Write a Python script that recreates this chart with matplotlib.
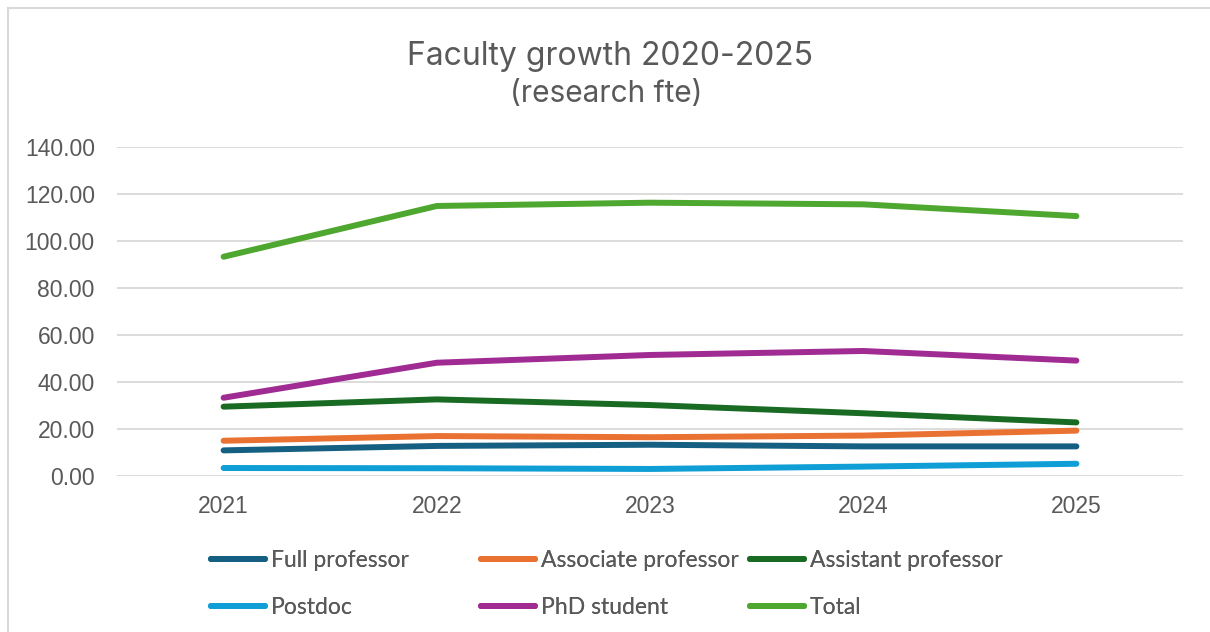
import matplotlib.pyplot as plt
from matplotlib.lines import Line2D

# Data
years = ['2021', '2022', '2023', '2024', '2025']
full_professor = [10.9, 12.8, 13.3, 12.6, 12.6]
associate_professor = [15.0, 17.0, 16.5, 17.2, 19.3]
assistant_professor = [29.5, 32.6, 30.2, 26.7, 22.8]
postdoc = [3.4, 3.3, 3.0, 4.0, 5.2]
phd_student = [33.3, 48.2, 51.5, 53.2, 49.1]
total = [93.3, 114.9, 116.3, 115.6, 110.6]

series = [
    ('Full professor', full_professor, '#156082'),
    ('Associate professor', associate_professor, '#E97132'),
    ('Assistant professor', assistant_professor, '#196B24'),
    ('Postdoc', postdoc, '#0F9ED5'),
    ('PhD student', phd_student, '#A02B93'),
    ('Total', total, '#4EA72E'),
]

text_grey = '#595959'
grid_grey = '#D9D9D9'

fig = plt.figure(figsize=(12.1, 6.32), dpi=100)
ax = fig.add_axes([117 / 1210, 1 - 476 / 632, (1183 - 117) / 1210, (476 - 147) / 632])

x = range(len(years))
handles = []
for label, values, color in series:
    h, = ax.plot(x, values, color=color, lw=4.3, solid_capstyle='round',
                 solid_joinstyle='round', label=label)
    handles.append(h)

ax.set_xlim(-0.5, len(years) - 0.5)
ax.set_ylim(0, 140)
ax.set_yticks(range(0, 141, 20))
ax.set_yticklabels([f'{v:.2f}' for v in range(0, 141, 20)])
ax.set_xticks(list(x))
ax.set_xticklabels(years)
ax.grid(axis='y', color=grid_grey, lw=1.3)
ax.set_axisbelow(True)
for s in ax.spines.values():
    s.set_visible(False)
ax.tick_params(length=0, labelsize=16.5, labelcolor=text_grey, pad=16)
ax.tick_params(axis='x', pad=14)
for t in ax.get_xticklabels() + ax.get_yticklabels():
    t.set_family('Liberation Sans')

fig.text(0.504, 1 - 65 / 632, 'Faculty growth 2020-2025', ha='center', va='baseline',
         fontsize=23, color=text_grey, family='Inter')
fig.text(0.501, 1 - 102 / 632, '(research fte)', ha='center', va='baseline',
         fontsize=21.5, color=text_grey, family='Inter')

# legend: three fixed-width columns, two rows each
col_x = [211, 481, 750]
for i, cx in enumerate(col_x):
    leg = fig.legend(handles=[handles[i], handles[i + 3]], loc='center left',
                     bbox_to_anchor=(cx / 1210, 1 - 584 / 632), frameon=False,
                     borderpad=0, borderaxespad=0, handlelength=2.35, handletextpad=0.25,
                     labelspacing=1.1, prop={'family': 'Lato', 'size': 16.5})
    for t in leg.get_texts():
        t.set_color(text_grey)
    fig.add_artist(leg)

# outer chart frame (left and top edges only visible)
fig.add_artist(Line2D([8 / 1210, 8 / 1210], [0, 1 - 8 / 632], color=grid_grey, lw=1.5))
fig.add_artist(Line2D([8 / 1210, 1], [1 - 8 / 632, 1 - 8 / 632], color=grid_grey, lw=1.5))

fig.savefig('out.png', dpi=100)
